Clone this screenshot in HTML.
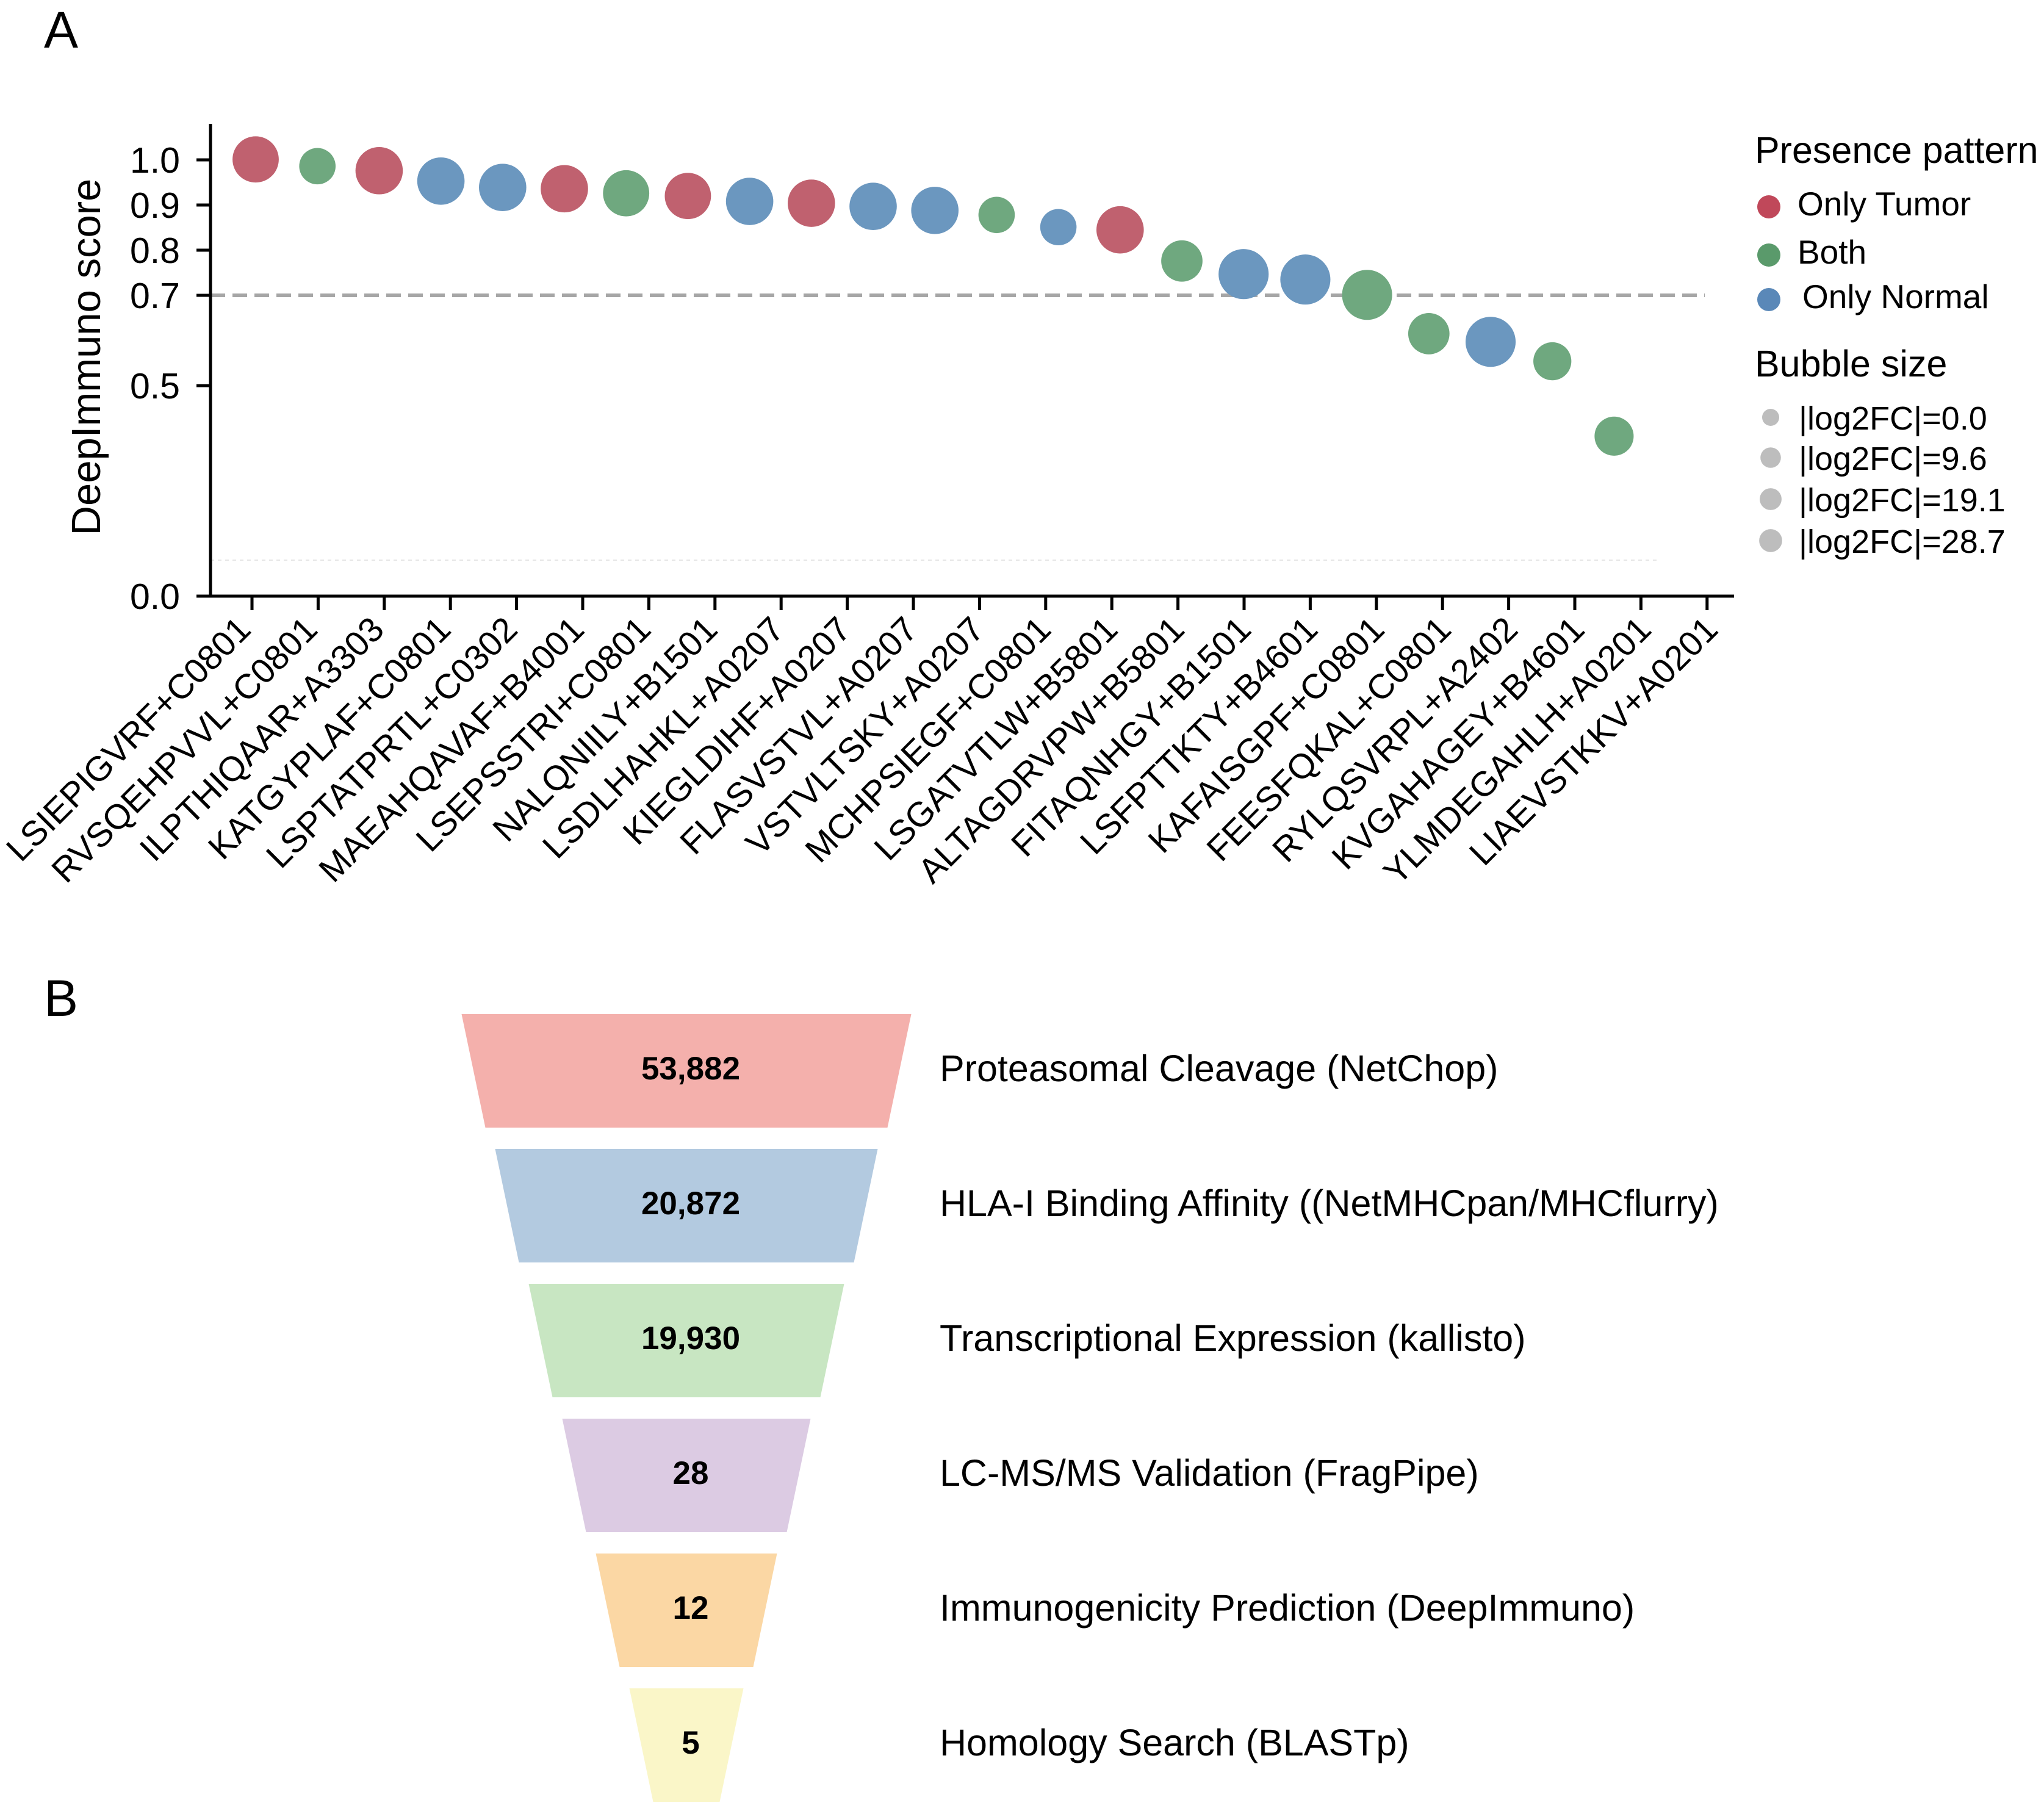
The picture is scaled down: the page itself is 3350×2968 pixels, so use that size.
<!DOCTYPE html>
<html><head><meta charset="utf-8">
<style>
html,body{margin:0;padding:0;background:#fff;}
svg{display:block;font-family:"Liberation Sans",Arial,sans-serif;}
</style></head>
<body>
<svg id="fig" width="3350" height="2968" viewBox="0 0 3350 2968" xmlns="http://www.w3.org/2000/svg">
  <text x="72" y="78" font-size="84">A</text>
  <text x="72" y="1665" font-size="84">B</text>
  <g id="chartA"></g>
  <g id="chartB"></g>
</svg>
<script>
const peptides = ["LSIEPIGVRF+C0801","RVSQEHPVVL+C0801","ILPTHIQAAR+A3303","KATGYPLAF+C0801","LSPTATPRTL+C0302","MAEAHQAVAF+B4001","LSEPSSTRI+C0801","NALQNIILY+B1501","LSDLHAHKL+A0207","KIEGLDIHF+A0207","FLASVSTVL+A0207","VSTVLTSKY+A0207","MCHPSIEGF+C0801","LSGATVTLW+B5801","ALTAGDRVPW+B5801","FITAQNHGY+B1501","LSFPTTKTY+B4601","KAFAISGPF+C0801","FEESFQKAL+C0801","RYLQSVRPL+A2402","KVGAHAGEY+B4601","YLMDEGAHLH+A0201","LIAEVSTKKV+A0201"];
const scores = [1.001,0.986,0.976,0.953,0.939,0.936,0.926,0.920,0.908,0.904,0.897,0.888,0.878,0.851,0.845,0.776,0.747,0.735,0.701,0.615,0.597,0.554,0.380];
const patterns = ["T","B","T","N","N","T","B","T","N","T","N","N","B","N","T","B","N","N","B","B","N","B","B"];
const log2fc = [22,4,24,24,24,24,22,22,24,24,24,24,4,4,24,13,29,29,29,13,29,7,9];
const yTicks = [0.0,0.5,0.7,0.8,0.9,1.0];
const yTickLabels = ["0.0","0.5","0.7","0.8","0.9","1.0"];
const threshold = 0.7;
const legendPatterns = ["Only Tumor","Both","Only Normal"];
const legendSizes = [0.0,9.6,19.1,28.7];
const funnelCounts = [53882,20872,19930,28,12,5];
const funnelStages = ["Proteasomal Cleavage (NetChop)","HLA-I Binding Affinity ((NetMHCpan/MHCflurry)","Transcriptional Expression (kallisto)","LC-MS/MS Validation (FragPipe)","Immunogenicity Prediction (DeepImmuno)","Homology Search (BLASTp)"];

const NS="http://www.w3.org/2000/svg";
function mk(parent,tag,attrs,text){const e=document.createElementNS(NS,tag);for(const k in attrs)e.setAttribute(k,attrs[k]);if(text!==undefined)e.textContent=text;parent.appendChild(e);return e;}
const colFill={T:"#c0616f",B:"#6fa87f",N:"#6b97bf"};
const colLeg=["#c0485a","#5a9a6b","#5a88b8"];
function yScale(v){ if(v<=0.5) return 977-(v/0.5)*345; return 632-(v-0.5)*740; }
function xTick(i){ return 413+i*108.4; }
function xLabel(i){ return 414+i*109.3; }
function xBubble(i){ return 419+i*101.2; }
function rScale(f){ return 28+f*0.45; }

const A=document.getElementById('chartA');
let l=mk(A,'line',{x1:345,x2:2794,y1:yScale(threshold),y2:yScale(threshold),stroke:"#a6a6a6","stroke-width":6,"stroke-dasharray":"24 12"});


l=mk(A,'line',{x1:345,x2:2718,y1:918,y2:918,stroke:"#e6e6e6","stroke-width":2,"stroke-dasharray":"6 6"});


peptides.forEach((p,i)=>{
  const c=mk(A,'circle',{cx:xBubble(i),cy:yScale(scores[i]),r:rScale(log2fc[i]),fill:colFill[patterns[i]]});
  
  
});
l=mk(A,'line',{x1:345,x2:345,y1:203,y2:979,stroke:"#000","stroke-width":5});


yTicks.forEach((v,i)=>{
  const t=mk(A,'line',{x1:322,x2:345,y1:yScale(v),y2:yScale(v),stroke:"#000","stroke-width":5});
  
  
  const tx=mk(A,'text',{x:295,y:yScale(v)+21,"font-size":59,"text-anchor":"end"},yTickLabels[i]);
  
  
});
const yt=mk(A,'text',{x:0,y:0,"font-size":67,"text-anchor":"middle",transform:"translate(164,585) rotate(-90)"},"DeepImmuno score");


l=mk(A,'line',{x1:322,x2:2842,y1:977,y2:977,stroke:"#000","stroke-width":5});


peptides.forEach((p,i)=>{
  const x=xTick(i);
  const t=mk(A,'line',{x1:x,x2:x,y1:977,y2:1000,stroke:"#000","stroke-width":5});
  
  
  const tx=mk(A,'text',{x:0,y:0,"font-size":57,"text-anchor":"end",transform:`translate(${xLabel(i)},1035) rotate(-45)`},p);
  
  
});
let g=mk(A,'text',{x:2876,y:267,"font-size":61},"Presence pattern");


const legY=[333,412,485];
legendPatterns.forEach((n,i)=>{
  const c=mk(A,'circle',{cx:2899,cy:legY[i]+6,r:19,fill:colLeg[i]});
  
  
  const t=mk(A,'text',{x:i==2?2954:2946,y:legY[i]+20,"font-size":55},n);
  
  
});
g=mk(A,'text',{x:2876,y:617,"font-size":61},"Bubble size");


const sizeY=[684,750,818,886];
legendSizes.forEach((s,i)=>{
  const c=mk(A,'circle',{cx:2902,cy:sizeY[i],r:14+Math.sqrt(s)*0.9,fill:"#bdbdbd"});
  
  
  const t=mk(A,'text',{x:2948,y:sizeY[i]+20,"font-size":54},"|log2FC|="+s.toFixed(1));
  
  
});

const B=document.getElementById('chartB');
const fCol=["#f4b0ac","#b3cae0","#c8e6c2","#dccbe3","#fbd7a4","#faf6c8"];
const cx=1125, top0=1662, step=221, h=186, w0=737, shrink=110, slant=39;
funnelCounts.forEach((v,i)=>{
  const y=top0+i*step, tw=w0-i*shrink, bw=tw-2*slant;
  const p=mk(B,'polygon',{points:`${cx-tw/2},${y} ${cx+tw/2},${y} ${cx+bw/2},${y+h} ${cx-bw/2},${y+h}`,fill:fCol[i]});
  
  
  const t=mk(B,'text',{x:cx+7,y:y+h/2+14,"font-size":53,"font-weight":"bold","text-anchor":"middle"},v.toLocaleString('en-US'));
  
  
  const s=mk(B,'text',{x:1540,y:y+h/2+17,"font-size":61},funnelStages[i]);
  
  
});
</script>
</body></html>
